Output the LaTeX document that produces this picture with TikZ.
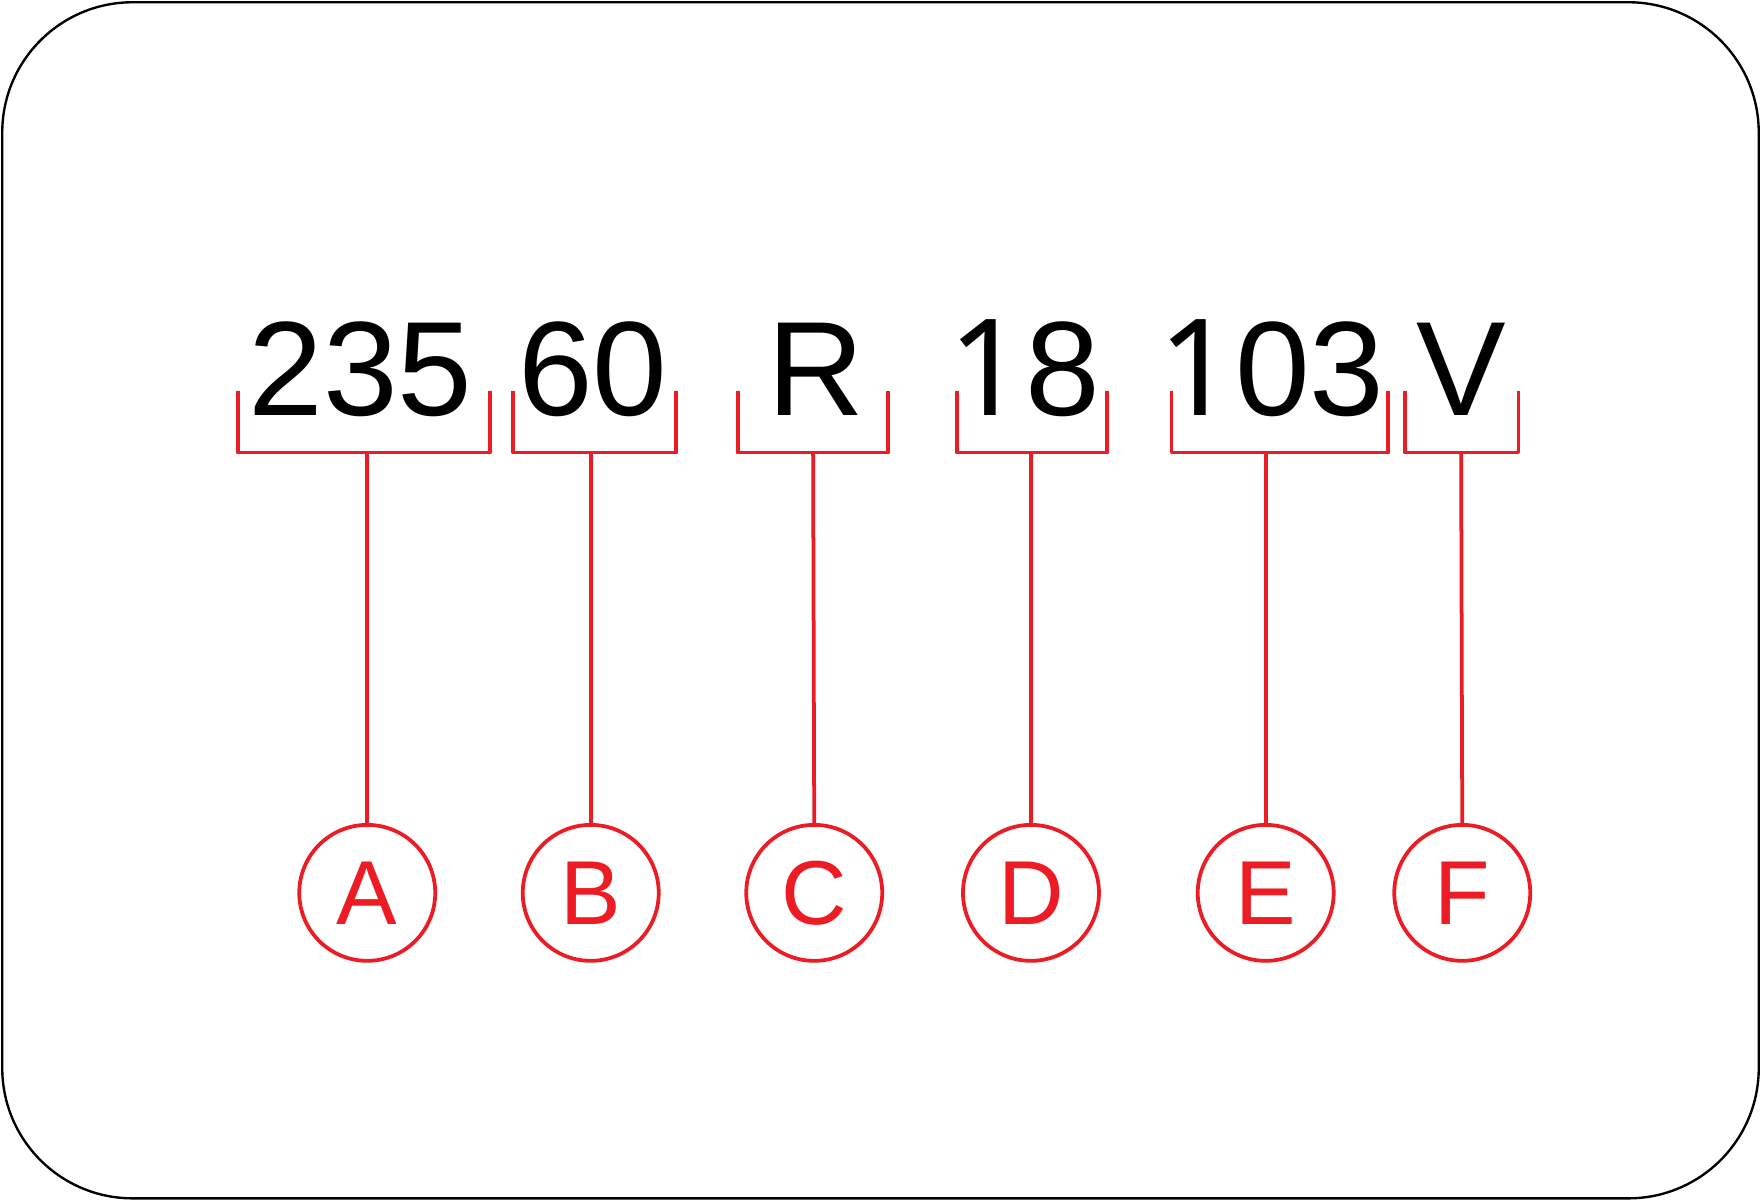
\documentclass[tikz,border=0pt]{standalone}
\usepackage{fontspec}
\setmainfont{Liberation Sans}
\newfontfamily\onefont{Noto Sans}
\newcommand\onedigit{{\onefont 1}}
\usetikzlibrary{positioning}
\definecolor{tagred}{RGB}{237, 28, 36}

\begin{document}
\begin{tikzpicture}[x=0.01cm, y=-0.01cm,
  sizetext/.style={font=\fontsize{34}{34}\selectfont, anchor=base, inner sep=0pt},
  brace/.style={draw=tagred, line width=0.95pt, line join=round},
  stem/.style={draw=tagred, line width=0.95pt},
  tagcircle/.style={draw=tagred, circle, line width=0.95pt, minimum size=1.21cm, inner sep=0pt, text=tagred, font=\fontsize{23}{23}\selectfont}]
  \useasboundingbox (0,0) rectangle (1568,1069);

  % frame
  \draw[line width=0.6pt, rounded corners=1.16cm] (2,2) rectangle (1566,1067);

  % tyre size text
  \node[sizetext] (t235) at (321,370) {235};
  \node[sizetext] (t60) at (528,370) {60};
  \node[sizetext] (tR) at (727,370) {R};
  \node[sizetext] (t18) at (912,370) {\onedigit8};
  \node[sizetext] (t103) at (1132,370) {\onedigit03};
  \node[sizetext] (tV) at (1301,370) {V};

  % brackets under each part
  \draw[brace] (212,348) -- (212,403) -- (436,403) -- (436,348);
  \draw[brace] (457,348) -- (457,403) -- (602,403) -- (602,348);
  \draw[brace] (657,348) -- (657,403) -- (791,403) -- (791,348);
  \draw[brace] (852,348) -- (852,403) -- (986,403) -- (986,348);
  \draw[brace] (1043,348) -- (1043,403) -- (1236,403) -- (1236,348);
  \draw[brace] (1251,348) -- (1251,403) -- (1352,403) -- (1352,348);
  \coordinate (bA) at (327,403);
  \coordinate (bB) at (526,403);
  \coordinate (bC) at (724,403);
  \coordinate (bD) at (918,403);
  \coordinate (bE) at (1127,403);
  \coordinate (bF) at (1301,403);

  % letter circles
  \node[tagcircle] (cA) at (327,795) {A};
  \node[tagcircle] (cB) at (526,795) {B};
  \node[tagcircle] (cC) at (725,795) {C};
  \node[tagcircle] (cD) at (918,795) {D};
  \node[tagcircle] (cE) at (1127,795) {E};
  \node[tagcircle] (cF) at (1302,795) {F};

  \draw[stem] (bA) -- (cA.north);
  \draw[stem] (bB) -- (cB.north);
  \draw[stem] (bC) -- (cC.north);
  \draw[stem] (bD) -- (cD.north);
  \draw[stem] (bE) -- (cE.north);
  \draw[stem] (bF) -- (cF.north);
\end{tikzpicture}
\end{document}
